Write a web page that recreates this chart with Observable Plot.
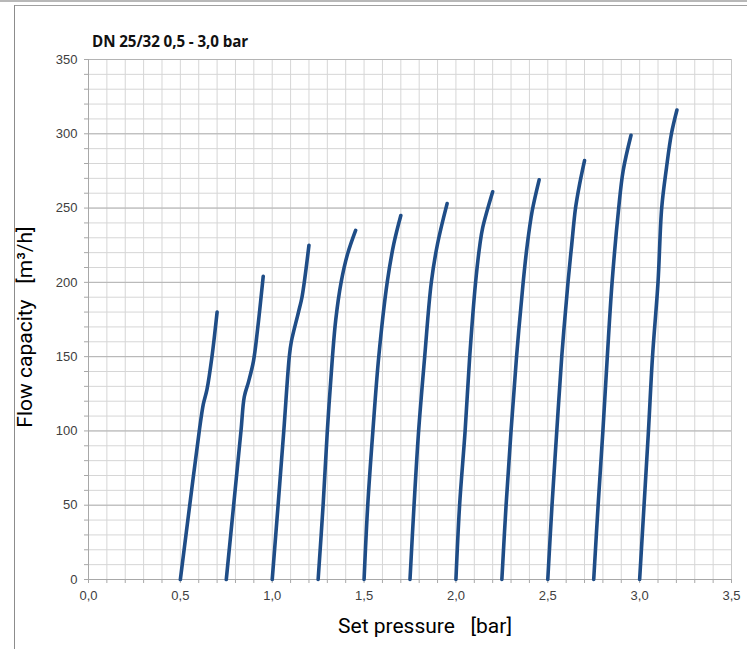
<!DOCTYPE html>
<html>
<head>
<meta charset="utf-8">
<script src="https://cdn.jsdelivr.net/npm/d3@7"></script>
<script src="https://cdn.jsdelivr.net/npm/@observablehq/plot@0.6"></script>
<style>
  html, body { margin: 0; padding: 0; background: #fff; }
  #wrap { position: relative; width: 747px; height: 649px; overflow: hidden; background: #fff; }
  #wrap svg { position: absolute; left: 0; top: 0; }
  .topband { position: absolute; left: 0; top: 0; width: 747px; height: 2px; background: #b8b8b8; }
  .frameTop { position: absolute; left: 14px; top: 5px; width: 733px; height: 1px; background: #a0a0a0; }
  .frameLeft { position: absolute; left: 14px; top: 5px; width: 1px; height: 644px; background: #8c8c8c; }
  .title { position: absolute; left: 92px; top: 34px; font: bold 15.2px "Open Sans", sans-serif; line-height: 1; color: #111; white-space: nowrap; letter-spacing: -0.1px; }
  .xlabel { position: absolute; left: 425px; top: 616px; transform: translateX(-50%); font: 21px Roboto, sans-serif; line-height: 1; color: #000; white-space: pre; }
  .ylabel { position: absolute; left: 25px; top: 327px; transform: translate(-50%, -50%) rotate(-90deg); font: 21px Roboto, sans-serif; line-height: 1; color: #000; white-space: pre; }
</style>
</head>
<body>
<div id="wrap">
  <div class="topband"></div>
  <div class="frameTop"></div>
  <div class="frameLeft"></div>
</div>
<script>
// ---- data ----
const titleText = "DN 25/32 0,5 - 3,0 bar";
const xLabelText = "Set pressure   [bar]";
const yLabelText = "Flow capacity   [m³/h]";

const xTickValues = [0, 0.5, 1.0, 1.5, 2.0, 2.5, 3.0, 3.5];
const yTickValues = [0, 50, 100, 150, 200, 250, 300, 350];

const setPressures = [0.5, 0.75, 1.0, 1.25, 1.5, 1.75, 2.0, 2.25, 2.5, 2.75, 3.0];

const p050 = [0.5, 0.551, 0.603, 0.625, 0.645, 0.672, 0.70];
const q050 = [0, 50, 100, 118, 128, 150, 180];

const p075 = [0.75, 0.79, 0.83, 0.848, 0.871, 0.898, 0.92, 0.951];
const q075 = [0, 50, 100, 123, 133, 147, 168, 204];

const p100 = [1.0, 1.032, 1.063, 1.093, 1.104, 1.143, 1.162, 1.20];
const q100 = [0, 50, 100, 150, 160, 180, 190, 225];

const p125 = [1.25, 1.277, 1.30, 1.328, 1.346, 1.375, 1.41, 1.454];
const q125 = [0, 50, 100, 150, 175, 200, 219, 235];

const p150 = [1.5, 1.52, 1.548, 1.58, 1.626, 1.662, 1.70];
const q150 = [0, 50, 100, 150, 200, 226, 245];

const p175 = [1.75, 1.772, 1.797, 1.83, 1.866, 1.90, 1.952];
const q175 = [0, 50, 100, 150, 200, 226, 253];

const p200 = [2.0, 2.02, 2.05, 2.075, 2.107, 2.13, 2.146, 2.20];
const q200 = [0, 50, 100, 150, 200, 225, 237, 261];

const p225 = [2.25, 2.273, 2.30, 2.33, 2.366, 2.388, 2.415, 2.453];
const q225 = [0, 50, 100, 150, 200, 225, 248, 269];

const p250 = [2.5, 2.523, 2.549, 2.576, 2.61, 2.63, 2.651, 2.673, 2.70];
const q250 = [0, 50, 100, 150, 200, 225, 250, 266, 282];

const p275 = [2.75, 2.774, 2.80, 2.824, 2.85, 2.886, 2.91, 2.953];
const q275 = [0, 50, 100, 150, 200, 250, 275, 299];

const p300 = [3.0, 3.024, 3.048, 3.07, 3.10, 3.12, 3.146, 3.173, 3.203];
const q300 = [0, 50, 100, 150, 200, 250, 277, 300, 316];

// ---- build table for the library ----
const curvesP = [p050, p075, p100, p125, p150, p175, p200, p225, p250, p275, p300];
const curvesQ = [q050, q075, q100, q125, q150, q175, q200, q225, q250, q275, q300];
const rows = [];
curvesP.forEach((ps, i) => ps.forEach((p, j) => rows.push({curve: setPressures[i], p, q: curvesQ[i][j]})));

const xMinor = d3.range(0, 36).map(i => i / 10);
const yMinor = d3.range(0, 36).map(i => i * 10);
const fmtX = d => d.toFixed(1).replace(".", ",");

const chart = Plot.plot({
  width: 747,
  height: 649,
  marginLeft: 88,
  marginRight: 16,
  marginTop: 59,
  marginBottom: 70,
  style: {background: "transparent", overflow: "visible"},
  x: {domain: [0, 3.5], label: null},
  y: {domain: [0, 350], label: null},
  marks: [
    Plot.ruleX(xMinor, {stroke: "#d6d6d6", strokeWidth: 1, strokeOpacity: 1}),
    Plot.ruleY(yMinor, {stroke: "#d6d6d6", strokeWidth: 1, strokeOpacity: 1}),
    Plot.ruleY(yTickValues, {stroke: "#b4b4b4", strokeWidth: 1, strokeOpacity: 1}),
    Plot.ruleX([3.5], {stroke: "#c8c8c8", strokeWidth: 1}),
    Plot.ruleX([0], {stroke: "#a8a8a8", strokeWidth: 1}),
    Plot.ruleY([0], {stroke: "#a8a8a8", strokeWidth: 1}),
    Plot.axisX(xMinor, {tickSize: 4, tickFormat: () => "", stroke: "#a8a8a8", strokeOpacity: 1, label: null}),
    Plot.axisY(yMinor, {tickSize: 4, tickFormat: () => "", stroke: "#a8a8a8", strokeOpacity: 1, label: null}),
    Plot.axisX(xTickValues, {tickSize: 0, tickPadding: 11, tickFormat: fmtX, fontSize: 13, fontFamily: "Liberation Sans, Arial, sans-serif", fill: "#404040", label: null}),
    Plot.axisY(yTickValues, {tickSize: 0, tickPadding: 11, fontSize: 13, fontFamily: "Liberation Sans, Arial, sans-serif", fill: "#404040", label: null}),
    Plot.line(rows, {x: "p", y: "q", z: "curve", stroke: "#1f4d87", strokeWidth: 3.6, curve: "catmull-rom", strokeLinecap: "round", strokeLinejoin: "round"})
  ]
});

const wrap = document.getElementById("wrap");
wrap.insertBefore(chart, wrap.firstChild);

const t = document.createElement("div"); t.className = "title"; t.textContent = titleText; wrap.appendChild(t);
const xl = document.createElement("div"); xl.className = "xlabel"; xl.textContent = xLabelText; wrap.appendChild(xl);
const yl = document.createElement("div"); yl.className = "ylabel"; yl.textContent = yLabelText; wrap.appendChild(yl);
</script>
</body>
</html>
